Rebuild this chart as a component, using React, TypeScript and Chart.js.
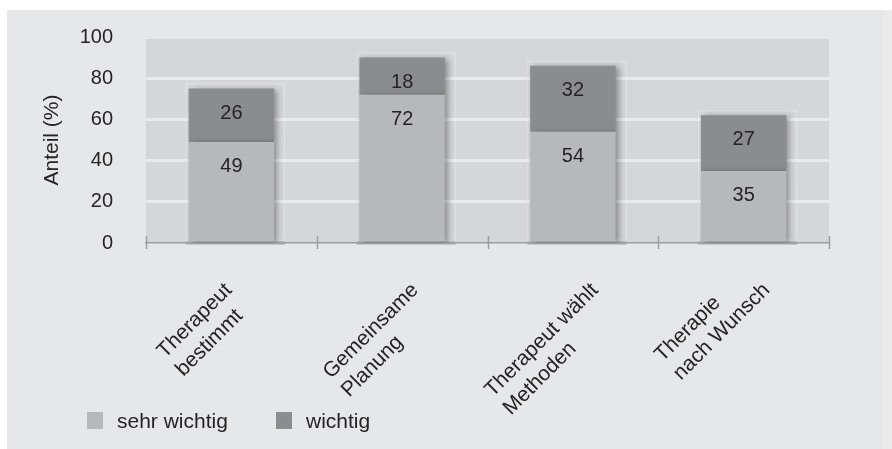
import React, { useEffect, useRef } from "react";
import { Chart, registerables } from "chart.js";

Chart.register(...registerables);

// ---- data ----
const categories: string[][] = [
  ["Therapeut", "bestimmt"],
  ["Gemeinsame", "Planung"],
  ["Therapeut wählt", "Methoden"],
  ["Therapie", "nach Wunsch"],
];
const sehrWichtig = [49, 72, 54, 35];
const wichtig = [26, 18, 32, 27];
const seriesLabels = ["sehr wichtig", "wichtig"];
const yMin = 0;
const yMax = 100;
const yStep = 20;
const yTitle = "Anteil (%)";

// ---- style ----
const FONT = '"Liberation Sans", Arial, sans-serif';
const TEXT = "#262324";
const PANEL = "#e6e7e8";
const PLOT = "#d5d6d8";
const LIGHT = "#b7b8ba";
const DARK = "#8b8c8f";
const AXIS = "#9c9d9f";

const W = 876;
const H = 439;

const decorPlugin = {
  id: "decor",
  beforeDraw(chart: any) {
    const { ctx, chartArea } = chart;
    ctx.save();
    ctx.fillStyle = PANEL;
    ctx.fillRect(0, 0, chart.width, chart.height);
    ctx.fillStyle = PLOT;
    ctx.fillRect(chartArea.left, chartArea.top + 2, chartArea.right - chartArea.left, chartArea.bottom - chartArea.top - 2);
    ctx.restore();
  },
  beforeDatasetsDraw(chart: any) {
    const { ctx } = chart;
    const x = chart.scales.x;
    const base = chart.chartArea.bottom;
    const metaTop = chart.getDatasetMeta(chart.data.datasets.length - 1);
    ctx.save();
    metaTop.data.forEach((el: any) => {
      const w = el.width;
      const l = el.x - w / 2 - 3;
      const r = el.x + w / 2 + 11;
      ctx.strokeStyle = "rgba(232,233,234,0.7)";
      ctx.lineWidth = 1;
      ctx.strokeRect(l + 0.5, el.y - 5 + 0.5, r - l - 1, base - el.y + 5);
      ctx.fillStyle = "#a3a4a6";
      ctx.fillRect(l, base - 1.5, r - l, 3);
    });
    ctx.strokeStyle = AXIS;
    ctx.lineWidth = 1.5;
    for (let k = 0; k <= categories.length; k++) {
      const px = Math.round(x.getPixelForValue(k - 0.5)) + 0.5;
      ctx.beginPath();
      ctx.moveTo(px, base - 7);
      ctx.lineTo(px, base + 6);
      ctx.stroke();
    }
    ctx.restore();
    ctx.save();
    ctx.shadowColor = "rgba(0,0,0,0.35)";
    ctx.shadowBlur = 6;
    ctx.shadowOffsetX = 3;
    ctx.shadowOffsetY = 1;
  },
  afterDatasetsDraw(chart: any) {
    const { ctx } = chart;
    ctx.restore();
    ctx.save();
    ctx.fillStyle = TEXT;
    ctx.font = `20px ${FONT}`;
    ctx.textAlign = "center";
    ctx.textBaseline = "alphabetic";
    chart.data.datasets.forEach((ds: any, di: number) => {
      const meta = chart.getDatasetMeta(di);
      meta.data.forEach((el: any, i: number) => {
        ctx.fillText(String(ds.data[i]), el.x, el.y + 30);
      });
    });
    ctx.restore();
  },
  afterDraw(chart: any) {
    const { ctx } = chart;
    const x = chart.scales.x;
    const c = Math.SQRT1_2;
    const lh = 26;
    ctx.save();
    ctx.fillStyle = TEXT;
    ctx.font = `21px ${FONT}`;
    ctx.textAlign = "left";
    ctx.textBaseline = "alphabetic";
    categories.forEach((lines, i) => {
      const lens = lines.map((t) => ctx.measureText(t).width);
      const maxR = Math.max(...lens.map((L, j) => L + j * lh));
      const minT = Math.min(...lens.map((L, j) => j * lh - L));
      const cx = x.getPixelForValue(i);
      const sx = cx - 27 - (c * maxR) / 2;
      const sy = 281 - c * minT;
      ctx.save();
      ctx.translate(sx, sy);
      ctx.rotate(-Math.PI / 4);
      lines.forEach((t, j) => ctx.fillText(t, 0, j * lh));
      ctx.restore();
    });
    // legend
    ctx.font = `21px ${FONT}`;
    const pitch = 189;
    chart.data.datasets.forEach((ds: any, di: number) => {
      const bx = 80 + di * pitch;
      ctx.fillStyle = ds.backgroundColor;
      ctx.fillRect(bx, 402, 16, 17);
      ctx.fillStyle = TEXT;
      ctx.fillText(ds.label, bx + 30, 418);
    });
    ctx.restore();
  },
};

export default function App() {
  const ref = useRef<HTMLCanvasElement | null>(null);
  useEffect(() => {
    if (!ref.current) return;
    const chart = new Chart(ref.current, {
      type: "bar",
      data: {
        labels: categories.map((c) => c.join(" ")),
        datasets: [
          { label: seriesLabels[0], data: sehrWichtig, backgroundColor: LIGHT, borderWidth: 0 },
          { label: seriesLabels[1], data: wichtig, backgroundColor: DARK, borderWidth: 0 },
        ],
      },
      options: {
        animation: false,
        responsive: false,
        devicePixelRatio: 1,
        layout: { padding: { left: 33, top: 27, right: 54, bottom: 206 } },
        datasets: { bar: { barPercentage: 0.5, categoryPercentage: 1 } },
        plugins: { legend: { display: false }, tooltip: { enabled: false } },
        scales: {
          x: {
            type: "category",
            stacked: true,
            offset: true,
            grid: { display: false, drawTicks: false },
            border: { display: true, color: AXIS, width: 1.5 },
            ticks: { display: false },
            afterFit: (s: any) => {
              s.height = 0;
              s.paddingLeft = 0;
              s.paddingRight = 0;
            },
          },
          y: {
            stacked: true,
            min: yMin,
            max: yMax,
            ticks: { stepSize: yStep, padding: 33, color: TEXT, font: { family: FONT, size: 20 } },
            grid: {
              drawTicks: false,
              lineWidth: 3,
              color: (ctx: any) =>
                ctx.tick && (ctx.tick.value === yMin || ctx.tick.value === yMax) ? "rgba(0,0,0,0)" : "#e9eaeb",
            },
            border: { display: false },
            title: { display: true, text: yTitle, color: TEXT, font: { family: FONT, size: 21 }, padding: 0 },
            afterFit: (s: any) => {
              s.width = 106;
              s.paddingTop = 0;
              s.paddingBottom = 0;
            },
          },
        },
      },
      plugins: [decorPlugin],
    });
    return () => chart.destroy();
  }, []);
  return (
    <div style={{ position: "absolute", left: 0, top: 0, width: 892, height: 449, background: "#fff", overflow: "hidden" }}>
      <div style={{ position: "absolute", left: 883, top: 10, width: 9, height: 439, background: "#ebebec" }} />
      <div style={{ position: "absolute", left: 7, top: 10, width: W, height: H }}>
        <canvas ref={ref} width={W} height={H} style={{ display: "block", width: W, height: H }} />
      </div>
    </div>
  );
}
